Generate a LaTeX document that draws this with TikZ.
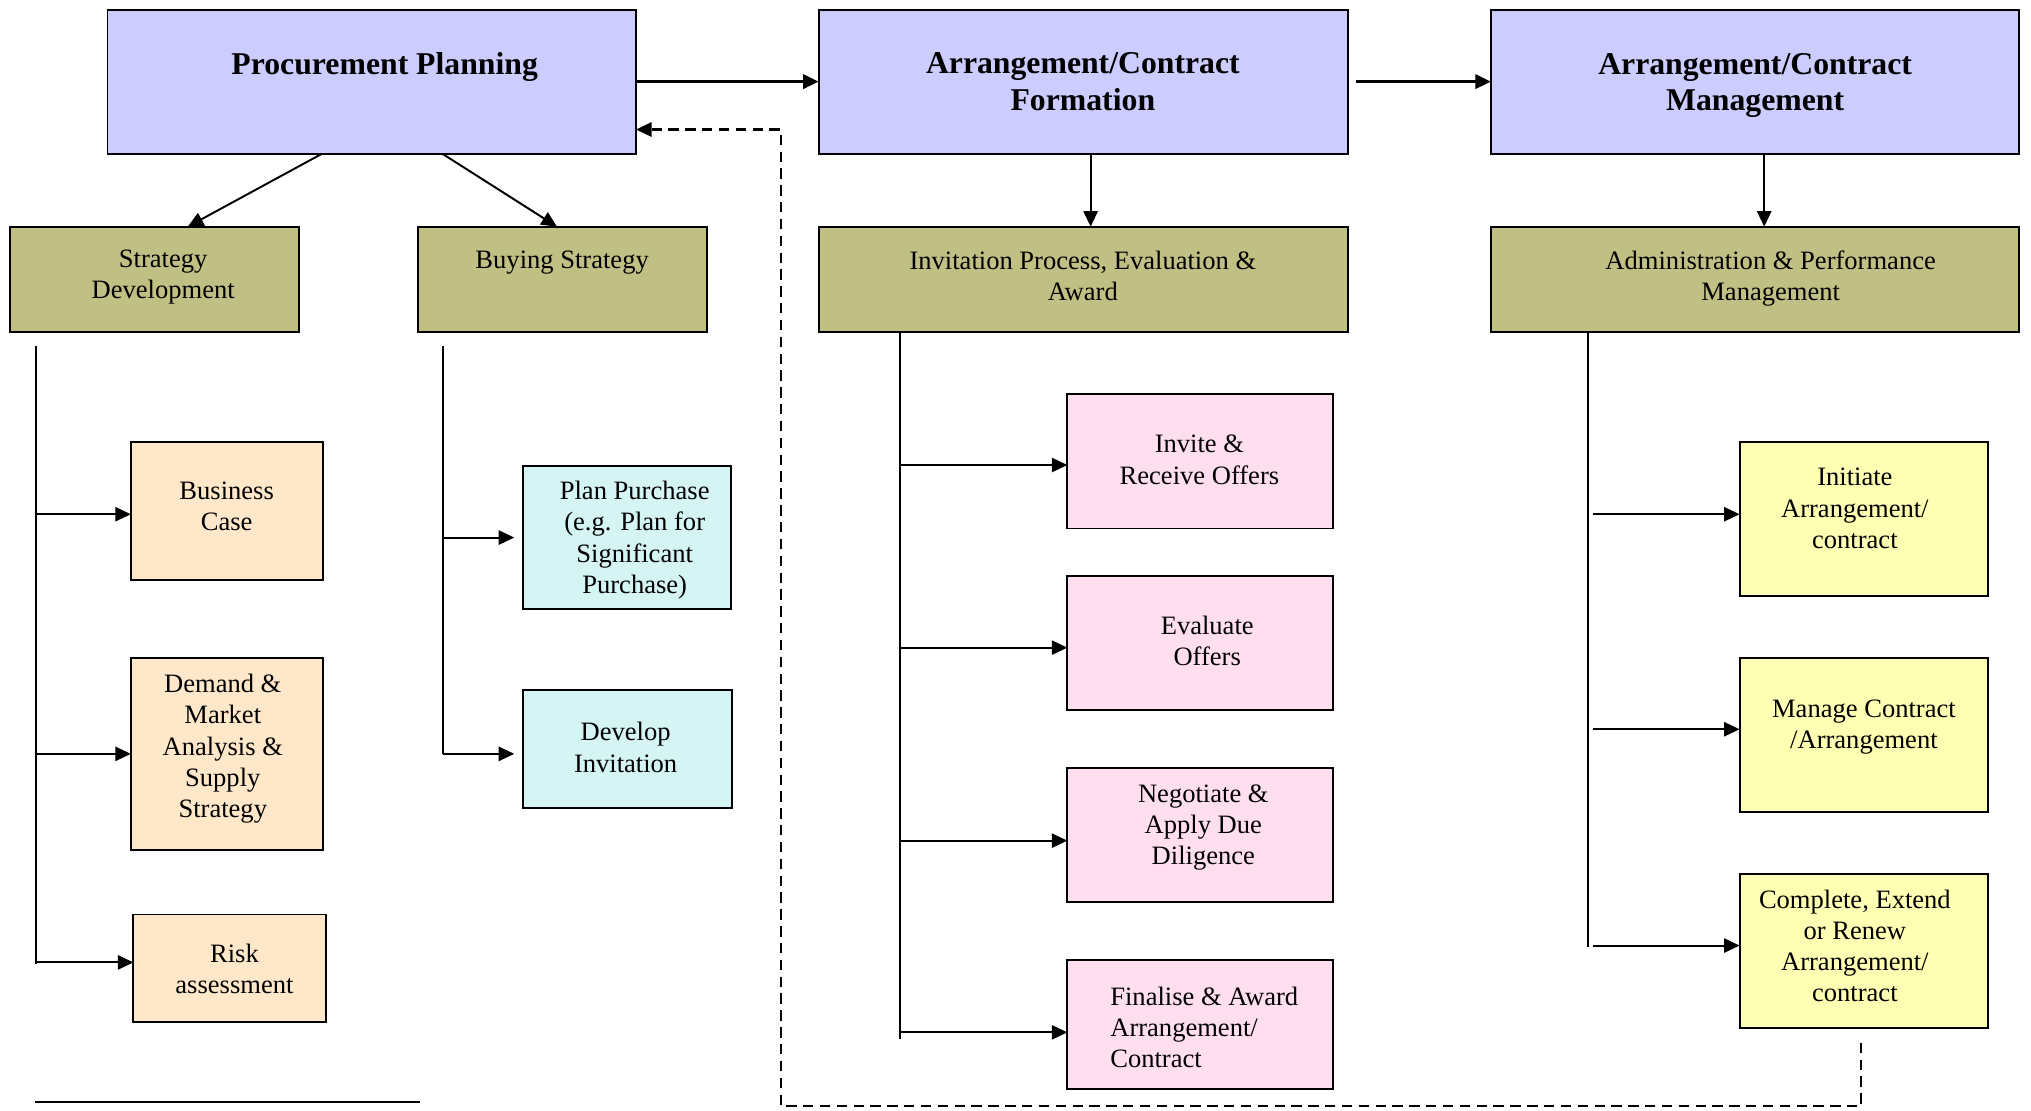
\documentclass[tikz,border=0pt]{standalone}
\usepackage{fontspec}
\setmainfont{Liberation Serif}
\usetikzlibrary{arrows.meta}

\definecolor{phasecol}{HTML}{CCCCFF}
\definecolor{stagecol}{HTML}{C0C084}
\definecolor{peachcol}{HTML}{FFE8CA}
\definecolor{cyancol}{HTML}{D5F4F4}
\definecolor{pinkcol}{HTML}{FFDEF0}
\definecolor{yellowcol}{HTML}{FFFFB3}

\begin{document}
\begin{tikzpicture}[x=1pt,y=-1pt,
  box/.style={draw=black, line width=1.5pt, inner sep=0pt, outer sep=0pt},
  phasebox/.style={box, fill=phasecol},
  stagebox/.style={box, fill=stagecol},
  peachbox/.style={box, fill=peachcol},
  cyanbox/.style={box, fill=cyancol},
  pinkbox/.style={box, fill=pinkcol},
  yellowbox/.style={box, fill=yellowcol},
  title/.style={align=center, font=\fontsize{24.5}{28}\selectfont\bfseries, inner sep=0pt},
  label/.style={align=center, font=\fontsize{20.5}{24}\selectfont, inner sep=0pt},
  arr/.style={line width=1.5pt, -{Triangle[length=12pt,width=11pt]}},
  bigarr/.style={line width=2.2pt, -{Triangle[length=12pt,width=11pt]}},
  trunk/.style={line width=1.8pt},
  feedback/.style={line width=1.6pt, dash pattern=on 8pt off 5pt, -{Triangle[length=12pt,width=11pt]}}
]
\useasboundingbox (0,0) rectangle (1568,857);

% phases
\node[phasebox, minimum width=408pt, minimum height=111pt] (pp)  at (287,63.5) {};
\node[phasebox, minimum width=409pt, minimum height=111pt] (acf) at (836.5,63.5) {};
\node[phasebox, minimum width=408pt, minimum height=111pt] (acm) at (1355,63.5) {};
\node[title] (t-pp)  at (297,52) {Procurement Planning};
\node[title] (t-acf) at (836,63) {Arrangement/Contract\\Formation};
\node[title] (t-acm) at (1355,66) {Arrangement/Contract\\Management};

% stages
\node[stagebox, minimum width=223pt, minimum height=81pt] (sd)   at (119.5,215.5) {};
\node[stagebox, minimum width=223pt, minimum height=81pt] (bs)   at (434.5,215.5) {};
\node[stagebox, minimum width=409pt, minimum height=81pt] (ipea) at (836.5,215.5) {};
\node[stagebox, minimum width=408pt, minimum height=81pt] (apm)  at (1355,215.5) {};
\node[label] (t-sd)   at (126,214) {Strategy\\Development};
\node[label] (t-bs)   at (434,203) {Buying Strategy};
\node[label] (t-ipea) at (836,213) {Invitation Process, Evaluation \&\\Award};
\node[label] (t-apm)  at (1367,215) {Administration \& Performance\\Management};

% strategy development tasks
\node[peachbox, minimum width=148pt, minimum height=107pt] (bc) at (175,394.5) {};
\node[peachbox, minimum width=148pt, minimum height=148pt] (dm) at (175,582) {};
\node[peachbox, minimum width=149pt, minimum height=83pt]  (ra) at (177.5,747.5) {};
\node[label] (t-bc) at (175,391) {Business\\Case};
\node[label] (t-dm) at (172,578) {Demand \&\\Market\\Analysis \&\\Supply\\Strategy};
\node[label] (t-ra) at (181,748) {Risk\\assessment};

% buying strategy tasks
\node[cyanbox, minimum width=160pt, minimum height=110pt] (plan) at (484,415) {};
\node[cyanbox, minimum width=161pt, minimum height=91pt]  (dev)  at (484.5,578.5) {};
\node[label] (t-plan) at (490,417) {Plan Purchase\\(e.g. Plan for\\Significant\\Purchase)};
\node[label] (t-dev)  at (483,577) {Develop\\Invitation};

% invitation tasks
\node[pinkbox, minimum width=205pt, minimum height=104pt] (inv) at (926.5,356) {};
\node[pinkbox, minimum width=205pt, minimum height=103pt] (eva) at (926.5,496.5) {};
\node[pinkbox, minimum width=205pt, minimum height=103pt] (neg) at (926.5,644.5) {};
\node[pinkbox, minimum width=205pt, minimum height=100pt] (fin) at (926.5,791) {};
\node[label] (t-inv) at (926,355) {Invite \&\\Receive Offers};
\node[label] (t-eva) at (932,495) {Evaluate\\Offers};
\node[label] (t-neg) at (929,639) {Negotiate \&\\Apply Due\\Diligence};
\node[label, align=left, anchor=west] (t-fin) at (857,793) {Finalise \& Award\\Arrangement/\\Contract};

% administration tasks
\node[yellowbox, minimum width=192pt, minimum height=119pt] (ini)  at (1439,400.5) {};
\node[yellowbox, minimum width=192pt, minimum height=119pt] (man)  at (1439,567.5) {};
\node[yellowbox, minimum width=192pt, minimum height=119pt] (comp) at (1439,734.5) {};
\node[label] (t-ini)  at (1432,392.5) {Initiate\\Arrangement/\\contract};
\node[label] (t-man)  at (1439,561) {Manage Contract\\/Arrangement};
\node[label] (t-comp) at (1432,730.5) {Complete, Extend\\or Renew\\Arrangement/\\contract};

% phase flow
\draw[bigarr] (pp.east |- 0,63) -- (acf.west |- 0,63);
\coordinate (acf-out) at (1047,63);
\draw[bigarr] (acf-out) -- (acf-out -| acm.west);

% phase to stage
\draw[arr] (pp.south -| 248,0) -- (sd.north -| 145,0);
\draw[arr] (pp.south -| 342,0) -- (bs.north -| 430,0);
\draw[arr] (acf.south -| 842,0) -- (ipea.north -| 842,0);
\draw[arr] (acm.south -| 1362,0) -- (apm.north -| 1362,0);

% strategy development tree
\coordinate (sd-top) at (28,267);
\coordinate (sd-bot) at (28,744);
\draw[trunk] (sd-top) -- (sd-bot);
\coordinate (sd-b1) at (28,397);
\coordinate (sd-b2) at (28,582);
\coordinate (sd-b3) at (28,743);
\draw[arr] (sd-b1) -- (sd-b1 -| bc.west);
\draw[arr] (sd-b2) -- (sd-b2 -| dm.west);
\draw[arr] (sd-b3) -- (sd-b3 -| ra.west);

% buying strategy tree
\coordinate (bs-top) at (342,267);
\coordinate (bs-bot) at (342,582);
\draw[trunk] (bs-top) -- (bs-bot);
\coordinate (bs-b1) at (342,415);
\draw[arr] (bs-b1) -- ([xshift=-7pt]bs-b1 -| plan.west);
\draw[arr] (bs-bot) -- ([xshift=-7pt]bs-bot -| dev.west);

% invitation tree
\coordinate (ip-top) at (695,256);
\coordinate (ip-bot) at (695,802);
\draw[trunk] (ip-top) -- (ip-bot);
\coordinate (ip-b1) at (695,359);
\coordinate (ip-b2) at (695,500);
\coordinate (ip-b3) at (695,649);
\coordinate (ip-b4) at (695,797);
\draw[arr] (ip-b1) -- (ip-b1 -| inv.west);
\draw[arr] (ip-b2) -- (ip-b2 -| eva.west);
\draw[arr] (ip-b3) -- (ip-b3 -| neg.west);
\draw[arr] (ip-b4) -- (ip-b4 -| fin.west);

% administration tree
\coordinate (ap-top) at (1226,256);
\coordinate (ap-bot) at (1226,731);
\draw[trunk] (ap-top) -- (ap-bot);
\coordinate (ap-b1) at (1230,397);
\coordinate (ap-b2) at (1230,563);
\coordinate (ap-b3) at (1230,730);
\draw[arr] (ap-b1) -- (ap-b1 -| ini.west);
\draw[arr] (ap-b2) -- (ap-b2 -| man.west);
\draw[arr] (ap-b3) -- (ap-b3 -| comp.west);

% feedback loop back to planning
\coordinate (fb-start) at (1437,805);
\coordinate (fb-low)   at (603,854);
\coordinate (fb-high)  at (603,100);
\draw[feedback] (fb-start) |- (fb-low) -- (fb-high) -- (fb-high -| pp.east);

% rule under the left column
\coordinate (rule-a) at (27,851);
\coordinate (rule-b) at (324,851);
\draw[line width=1.5pt] (rule-a) -- (rule-b);
\end{tikzpicture}
\end{document}
